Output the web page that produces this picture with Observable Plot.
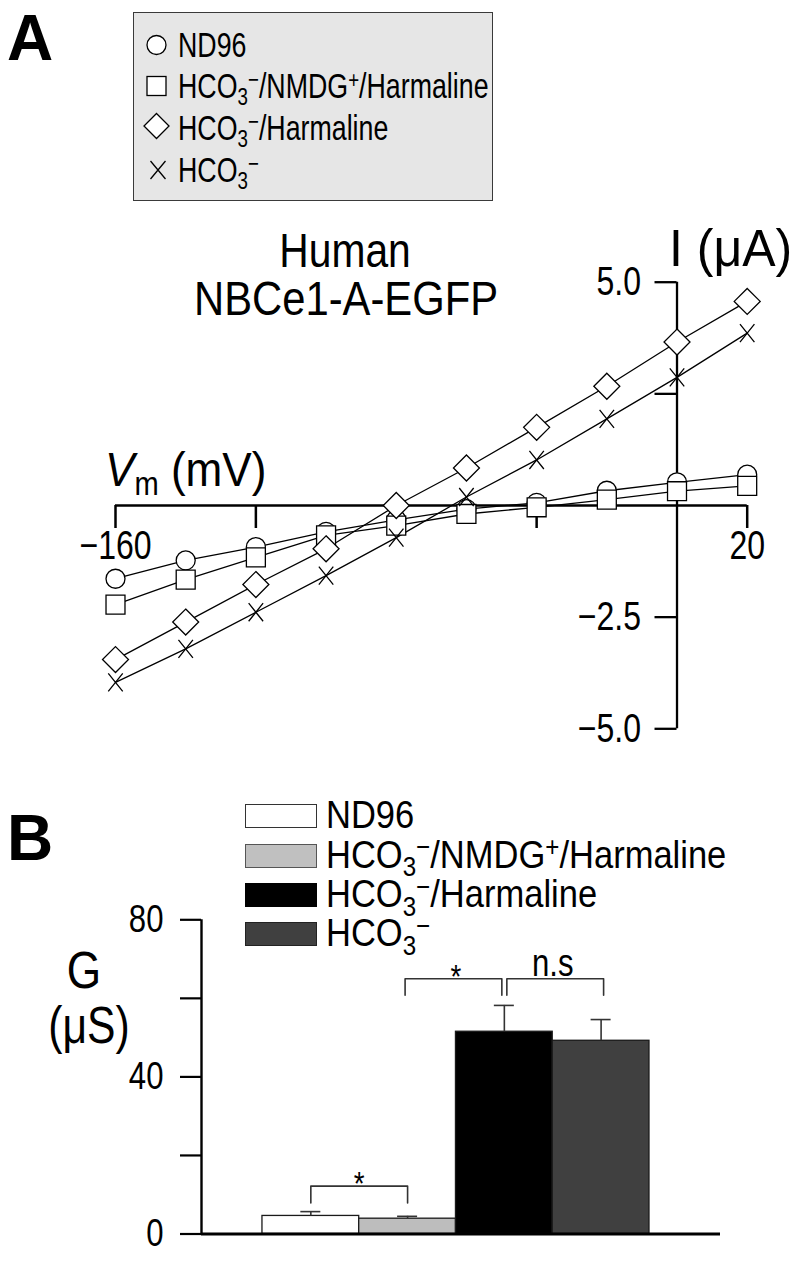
<!DOCTYPE html>
<html>
<head>
<meta charset="utf-8">
<script src="https://cdn.jsdelivr.net/npm/d3@7"></script>
<script src="https://cdn.jsdelivr.net/npm/@observablehq/plot@0.6"></script>
<style>
  html, body { margin:0; padding:0; background:#fff; }
  #page { position:relative; width:805px; height:1264px; overflow:hidden; background:#fff;
          font-family:"Liberation Sans Narrow","Arial Narrow","Liberation Sans",sans-serif; color:#000; }
  .t { position:absolute; white-space:nowrap; line-height:1; }
  .sub { font-size:0.7em; position:relative; top:0.3em; line-height:0; }
  .sup { font-size:0.7em; position:relative; top:-0.42em; line-height:0; }
  #legA { position:absolute; left:133px; top:12px; width:358px; height:187px; background:#e6e6e6; border:1.5px solid #3a3a3a; }
  .swatch { position:absolute; width:72px; height:24px; box-sizing:border-box; }
  svg.plotpanel { position:absolute; left:0; }
</style>
</head>
<body>
<div id="page"></div>
<script>
// ---------- data ----------
const voltages = [-160, -140, -120, -100, -80, -60, -40, -20, 0, 20];
const seriesNames = ["ND96", "HCO3−/NMDG+/Harmaline", "HCO3−/Harmaline", "HCO3−"];
const currentND96      = [-1.64, -1.23, -0.93, -0.59, -0.32, -0.08, 0.06, 0.33, 0.52, 0.69];
const currentNMDG      = [-2.22, -1.66, -1.16, -0.67, -0.45, -0.19, -0.04, 0.13, 0.32, 0.44];
const currentHarmaline = [-3.45, -2.61, -1.77, -0.97, 0.00, 0.84, 1.75, 2.67, 3.66, 4.57];
const currentHCO3      = [-3.96, -3.21, -2.39, -1.57, -0.72, 0.19, 1.02, 1.94, 2.87, 3.86];
const xTickValues = [-160, -120, -80, -40, 20];
const xTickLabels = [-160, 20];
const yTickValues = [-5, -2.5, 2.5, 5];
const yTickLabels = [-5, -2.5, 5];

const conductance    = [4.6, 3.9, 51.5, 49.2];
const conductanceSem = [1.1, 0.6, 6.7, 5.4];
const gTicks = [0, 20, 40, 60, 80];
const gTickLabels = [0, 40, 80];
const bracketFrom  = [0, 1, 2];
const bracketTo    = [1, 2, 3];
const bracketTop   = [12.2, 65.0, 65.0];
const bracketLeg   = [7.9, 60.8, 60.8];
const bracketLabel = ["*", "*", "n.s"];

// ---------- styles ----------
const barFills   = ["#ffffff", "#bdbdbd", "#000000", "#404040"];
const FONT = '"Liberation Sans Narrow","Arial Narrow","Liberation Sans",sans-serif';
const minus = (s) => s.replace("-", "−");
const fmtInt = (d) => minus(String(d));
const fmt1 = (d) => minus(d.toFixed(1));

const page = document.getElementById("page");

// condense the SVG text of a Plot chart horizontally around each label's anchor
function condense(svg, k) {
  svg.querySelectorAll("text").forEach((t) => {
    const tr = t.getAttribute("transform");
    if (tr && tr.includes("translate")) {
      t.setAttribute("transform", tr + ` scale(${k},1)`);
    } else {
      const x = +(t.getAttribute("x") || 0);
      t.setAttribute("transform", `translate(${x},0) scale(${k},1) translate(${-x},0)`);
    }
  });
}

// ---------- panel A ----------
const currents = [currentND96, currentNMDG, currentHarmaline, currentHCO3];
const ivData = seriesNames.flatMap((s, k) => voltages.map((v, j) => ({series: s, k, v, i: currents[k][j]})));
const timesTall = {
  draw(ctx, size) {
    const s = Math.sqrt(size) / 2, w = s * 0.8;
    ctx.moveTo(-w, -s); ctx.lineTo(w, s);
    ctx.moveTo(-w, s); ctx.lineTo(w, -s);
  }
};
const dotStyle = {x: "v", y: "i", fill: "white", stroke: "black", strokeWidth: 1.3};

const chartA = Plot.plot({
  width: 805, height: 770,
  marginTop: 281.7, marginBottom: 41.7, marginLeft: 115, marginRight: 58.3,
  x: {domain: [-160, 20], axis: null},
  y: {domain: [-5, 5], axis: null},
  style: {fontFamily: FONT, fontSize: "40px", background: "transparent", overflow: "visible", color: "black"},
  marks: [
    Plot.ruleY([0], {x1: -160, x2: 20, stroke: "black", strokeWidth: 2.7}),
    Plot.ruleX([0], {y1: -5, y2: 5, stroke: "black", strokeWidth: 2.3}),
    Plot.ruleX(xTickValues, {x: (d) => d, y1: 0, y2: 0, insetTop: 23, stroke: "black", strokeWidth: 2.5}),
    Plot.ruleY(yTickValues, {y: (d) => d, x1: 0, x2: 0, insetLeft: -22, stroke: "black", strokeWidth: 2.3}),
    Plot.text(xTickLabels, {x: (d) => d, y: 0, text: fmtInt, dy: 53, lineAnchor: "bottom", fontSize: 40}),
    Plot.text(yTickLabels, {x: 0, y: (d) => d, text: fmt1, dx: -36, textAnchor: "end", lineAnchor: "middle", fontSize: 40}),
    Plot.line(ivData, {x: "v", y: "i", z: "series", stroke: "black", strokeWidth: 1.3}),
    Plot.dot(ivData.filter((d) => d.k === 0), {...dotStyle, symbol: "circle", r: 9.5}),
    Plot.dot(ivData.filter((d) => d.k === 1), {...dotStyle, symbol: "square", r: 10.7}),
    Plot.dot(ivData.filter((d) => d.k === 2), {...dotStyle, symbol: "diamond2", r: 11.7}),
    Plot.dot(ivData.filter((d) => d.k === 3), {...dotStyle, fill: "none", symbol: timesTall, r: 10.2})
  ]
});
condense(chartA, 0.8);
chartA.classList.add("plotpanel");
chartA.style.top = "0px";
page.appendChild(chartA);

// ---------- panel B ----------
const barsData = seriesNames.map((name, k) => ({name, k, g: conductance[k], e: conductanceSem[k]}));
const xDomainB = [-0.63, 4.734];
const bracketNudge = [0, -2.5, 2.5];
const brackets = bracketFrom.map((a, j) => ({
  j, a, b: bracketTo[j], top: bracketTop[j], leg: bracketLeg[j], label: bracketLabel[j]
}));
const bracketMarks = brackets.map((br) => Plot.line(
  [{x: br.a + 0.5, y: br.leg}, {x: br.a + 0.5, y: br.top}, {x: br.b + 0.5, y: br.top}, {x: br.b + 0.5, y: br.leg}],
  {x: "x", y: "y", stroke: "#333", strokeWidth: 1.6, dx: bracketNudge[br.j]}
));

const chartB = Plot.plot({
  width: 805, height: 484,
  marginTop: 139.3, marginBottom: 30.5, marginLeft: 201, marginRight: 85,
  x: {domain: xDomainB, axis: null},
  y: {domain: [0, 80], axis: null},
  color: {type: "identity"},
  style: {fontFamily: FONT, fontSize: "38px", background: "transparent", overflow: "visible", color: "black"},
  marks: [
    Plot.rect(barsData, {x1: (d) => d.k, x2: (d) => d.k + 1, y1: 0, y2: "g", fill: (d) => barFills[d.k], stroke: "#1a1a1a", strokeWidth: 1.3}),
    Plot.ruleX(barsData, {x: (d) => d.k + 0.5, y1: "g", y2: (d) => d.g + d.e, stroke: "#333", strokeWidth: 1.6}),
    Plot.ruleY(barsData, {y: (d) => d.g + d.e, x1: (d) => d.k + 0.5, x2: (d) => d.k + 0.5, insetLeft: -10, insetRight: -10, stroke: "#333", strokeWidth: 1.6}),
    ...bracketMarks,
    Plot.text(brackets.filter((d) => d.label === "*"), {x: (d) => (d.a + d.b) / 2 + 0.5, y: "top", text: "label", lineAnchor: "bottom", dy: 9, fontSize: 34}),
    Plot.text(brackets.filter((d) => d.label !== "*"), {x: (d) => (d.a + d.b) / 2 + 0.5, y: "top", text: "label", lineAnchor: "bottom", dy: -3, fontSize: 38}),
    Plot.ruleY([0], {stroke: "black", strokeWidth: 3}),
    Plot.ruleX([xDomainB[0]], {y1: 0, y2: 80, stroke: "black", strokeWidth: 2.4}),
    Plot.axisY({ticks: gTicks, tickSize: 21, tickPadding: 17, tickFormat: (d) => gTickLabels.includes(d) ? String(d) : "",
                stroke: "black", strokeWidth: 2.2, fontSize: 38, label: null})
  ]
});
condense(chartB, 0.82);
chartB.classList.add("plotpanel");
chartB.style.top = "780px";
page.appendChild(chartB);

// ---------- HTML text overlays (titles, legends, axis titles) ----------
function put(html, x, base, size, opts = {}) {
  const d = document.createElement("div");
  d.className = "t";
  d.innerHTML = html;
  const L = opts.lh || 1;
  d.style.fontSize = size + "px";
  d.style.lineHeight = String(L);
  d.style.top = (base - ((L - 1.117) / 2 + 0.905) * size) + "px";
  if (opts.family) d.style.fontFamily = opts.family;
  if (opts.weight) d.style.fontWeight = opts.weight;
  const k = opts.k || 1;
  const anchor = opts.anchor || "start";
  if (anchor === "start") { d.style.left = x + "px"; d.style.transformOrigin = "left center"; d.style.transform = `scaleX(${k})`; }
  else if (anchor === "end") { d.style.right = (805 - x) + "px"; d.style.transformOrigin = "right center"; d.style.transform = `scaleX(${k})`; }
  else { d.style.left = x + "px"; d.style.transformOrigin = "center center"; d.style.transform = `translateX(-50%) scaleX(${k})`; }
  page.appendChild(d);
  return d;
}
const richName = (s) => s
  .replace("HCO3−", 'HCO<span class="sub">3</span><span class="sup">−</span>')
  .replace("NMDG+", 'NMDG<span class="sup">+</span>');

// Panel labels
put("A", 7, 60, 64, {family: '"Liberation Sans",Arial,sans-serif', weight: "bold"});
put("B", 7, 860, 64, {family: '"Liberation Sans",Arial,sans-serif', weight: "bold"});

// Legend A
const legA = document.createElement("div");
legA.id = "legA";
page.appendChild(legA);
const legBases = [57, 98, 140, 182];
seriesNames.forEach((s, k) => put(richName(s), 178, legBases[k], 35, {k: 0.765, lh: 0.9}));
const legSvg = document.createElementNS("http://www.w3.org/2000/svg", "svg");
legSvg.setAttribute("width", 805); legSvg.setAttribute("height", 210);
legSvg.style.position = "absolute"; legSvg.style.left = "0"; legSvg.style.top = "0";
legSvg.innerHTML = `
  <g fill="white" stroke="black" stroke-width="1.3">
    <circle cx="156.5" cy="45" r="9.5"/>
    <rect x="147" y="76.5" width="19" height="19"/>
    <path d="M156.5,113.5 L169,126 L156.5,138.5 L144,126 Z"/>
    <path d="M150.5,161 L165.5,179 M150.5,179 L165.5,161" fill="none"/>
  </g>`;
page.appendChild(legSvg);

// Panel A titles
put("Human", 345, 268, 48, {anchor: "middle", k: 0.85});
put("NBCe1-A-EGFP", 346, 316, 48, {anchor: "middle", k: 0.87});
put("I (μA)", 669, 266, 51, {k: 0.98});
put('<i>V</i><span class="sub" style="font-size:0.66em">m</span> (mV)', 105, 486, 49, {k: 0.9});

// Legend B
const swatchStyles = [
  {bg: "#ffffff", bd: "#333"}, {bg: "#c0c0c0", bd: "#555"}, {bg: "#000000", bd: "#000"}, {bg: "#404040", bd: "#222"}
];
const legBTops = [804, 843.5, 883, 922];
seriesNames.forEach((s, k) => {
  const sw = document.createElement("div");
  sw.className = "swatch";
  sw.style.left = "245px"; sw.style.top = legBTops[k] + "px";
  sw.style.background = swatchStyles[k].bg;
  sw.style.border = "1.5px solid " + swatchStyles[k].bd;
  page.appendChild(sw);
  put(richName(s), 326, legBTops[k] + 25, 39, {k: 0.885, lh: 0.88});
});

// Panel B axis title
put("G", 84, 988, 52, {anchor: "middle", k: 0.85});
put("(μS)", 89, 1043, 52, {anchor: "middle", k: 0.82});
</script>
</body>
</html>
